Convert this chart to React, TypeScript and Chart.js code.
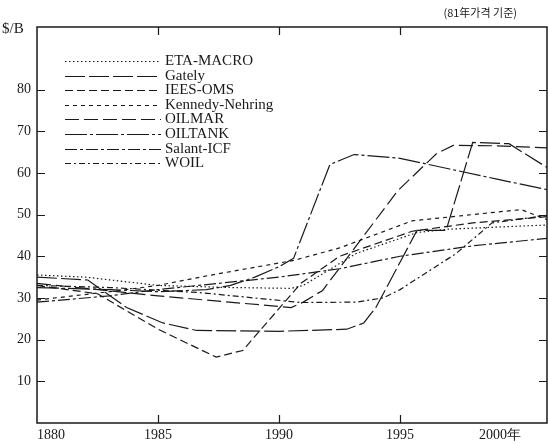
import React, { useEffect, useRef } from "react";
import { Chart, registerables } from "chart.js";

Chart.register(...registerables);

// ---------- data ----------
const xTicks = [1980, 1985, 1990, 1995, 2000];
const xTickLabels = ["1880", "1985", "1990", "1995", "2000年"];
const yTicks = [10, 20, 30, 40, 50, 60, 70, 80];
const yUnit = "$/B";
const note = "(81年가격 기준)";

const seriesNames = [
  "ETA-MACRO",
  "Gately",
  "IEES-OMS",
  "Kennedy-Nehring",
  "OILMAR",
  "OILTANK",
  "Salant-ICF",
  "WOIL",
];

const etaYears = [1980, 1982, 1985, 1988, 1990.5, 1991, 1993.2, 1995.7, 1997, 2001.07];
const etaValues = [35.5, 35, 33, 32.5, 32.3, 33, 40.7, 45.7, 46.5, 47.5];

const gatelyYears = [1980, 1982.1, 1983.7, 1985.2, 1986.6, 1990, 1992.8, 1993.5, 1994, 1995.7, 1996.9, 1998, 1999.5, 2001.07];
const gatelyValues = [35, 34.3, 27.7, 24, 22.2, 22, 22.5, 24, 27.7, 46.2, 46.2, 67.3, 67, 61.3];

const ieesYears = [1980, 1982.5, 1985, 1987.4, 1988.5, 1990.9, 1992.5, 1995.5, 1998, 2001.07];
const ieesValues = [33, 31, 22.5, 15.8, 17.4, 33.5, 40, 46, 48, 49.5];

const kennedyYears = [1980, 1983, 1985, 1987.1, 1990.6, 1992.5, 1995.5, 2000, 2001.07];
const kennedyValues = [29.5, 31.5, 33, 35.4, 39, 42, 48.5, 51.2, 48.8];

const oilmarYears = [1980, 1985, 1990.5, 1991, 1991.8, 1994.9, 1996.5, 1997.2, 1999, 2001.07];
const oilmarValues = [33.5, 30.5, 27.7, 29, 31.8, 55.7, 64.6, 66.6, 66.5, 66];

const oiltankYears = [1980, 1983, 1985, 1987, 1988, 1989, 1990, 1990.6, 1992.1, 1993.1, 1995, 1997, 1999, 2001.07];
const oiltankValues = [32.5, 32, 31.5, 32, 33, 35, 37.5, 39.5, 62, 64.4, 63.5, 61, 58.5, 56];

const salantYears = [1980, 1983, 1985, 1990, 1992.5, 1995, 1998, 2001.07];
const salantValues = [29, 30.5, 32, 35, 37, 40, 42.5, 44.3];

const woilYears = [1980, 1983, 1986.7, 1990.9, 1993.2, 1994.3, 1995, 1997.3, 1998.8, 2001.07];
const woilValues = [33, 32.5, 31.3, 28.9, 29, 30, 32, 40.6, 48, 49.8];

const seriesYears = [etaYears, gatelyYears, ieesYears, kennedyYears, oilmarYears, oiltankYears, salantYears, woilYears];
const seriesValues = [etaValues, gatelyValues, ieesValues, kennedyValues, oilmarValues, oiltankValues, salantValues, woilValues];

const dashes: number[][] = [
  [1.5, 2.5],
  [20, 4],
  [8, 4],
  [4, 4],
  [14, 5],
  [22, 3, 3, 3],
  [12, 3, 3, 3],
  [6, 3, 2, 3],
];

const INK = "#1a1a1a";
const SERIF = "'Liberation Serif', 'DejaVu Serif', serif";

export default function App() {
  const ref = useRef<HTMLCanvasElement | null>(null);

  useEffect(() => {
    const canvas = ref.current;
    if (!canvas) return;

    const datasets = seriesNames.map((name, i) => ({
      label: name,
      data: seriesYears[i].map((x, j) => ({ x, y: seriesValues[i][j] })),
      showLine: true,
      borderColor: INK,
      borderWidth: 1.2,
      borderDash: dashes[i],
      pointRadius: 0,
      tension: 0,
      fill: false,
    }));

    const decor = {
      id: "decor",
      afterDraw(chart: any) {
        const { ctx, chartArea } = chart;
        const xs = chart.scales.x;
        const ys = chart.scales.y;
        ctx.save();
        // frame
        ctx.strokeStyle = INK;
        ctx.lineWidth = 1.5;
        ctx.setLineDash([]);
        ctx.strokeRect(chartArea.left, chartArea.top, chartArea.right - chartArea.left, chartArea.bottom - chartArea.top);
        // inner ticks
        ctx.lineWidth = 1.2;
        const tl = 8;
        [1985, 1990, 1995].forEach((v) => {
          const px = Math.round(xs.getPixelForValue(v)) + 0.5;
          ctx.beginPath();
          ctx.moveTo(px, chartArea.bottom);
          ctx.lineTo(px, chartArea.bottom - tl);
          ctx.moveTo(px, chartArea.top);
          ctx.lineTo(px, chartArea.top + tl);
          ctx.stroke();
        });
        yTicks.forEach((v) => {
          const py = Math.round(ys.getPixelForValue(v)) + 0.5;
          ctx.beginPath();
          ctx.moveTo(chartArea.left, py);
          ctx.lineTo(chartArea.left + tl, py);
          ctx.moveTo(chartArea.right, py);
          ctx.lineTo(chartArea.right - tl, py);
          ctx.stroke();
        });
        // unit & note
        ctx.fillStyle = INK;
        ctx.font = `15px ${SERIF}`;
        ctx.textBaseline = "middle";
        ctx.textAlign = "left";
        ctx.fillText(yUnit, 2, 29);
        ctx.font = `11px 'Noto Sans CJK KR', sans-serif`;
        ctx.textAlign = "right";
        ctx.fillText(note, 517, 13);
        // legend
        ctx.font = `15px ${SERIF}`;
        ctx.textAlign = "left";
        chart.data.datasets.forEach((ds: any, i: number) => {
          const y = Math.round(61 + i * 14.6) + 0.5;
          ctx.beginPath();
          ctx.lineWidth = 1.2;
          ctx.setLineDash(ds.borderDash);
          ctx.moveTo(65, y);
          ctx.lineTo(161, y);
          ctx.stroke();
          ctx.setLineDash([]);
          ctx.fillText(ds.label, 165, y);
        });
        ctx.restore();
      },
    };

    const chart = new Chart(canvas, {
      type: "scatter",
      data: { datasets },
      options: {
        animation: false,
        responsive: false,
        maintainAspectRatio: false,
        layout: { padding: { top: 27, right: 1, left: 0, bottom: 0 } },
        plugins: { legend: { display: false }, tooltip: { enabled: false } },
        scales: {
          x: {
            type: "linear",
            min: 1980,
            max: 2001.07,
            grid: { display: false, drawTicks: false, tickLength: 0 },
            border: { display: false },
            afterBuildTicks: (s: any) => {
              s.ticks = xTicks.map((v) => ({ value: v }));
            },
            afterFit: (s: any) => {
              s.height = 21;
            },
            ticks: {
              autoSkip: false,
              maxRotation: 0,
              align: "inner",
              padding: 4,
              color: INK,
              font: { family: SERIF, size: 14 },
              callback: (_v: any, i: number) => xTickLabels[i],
            },
          },
          y: {
            type: "linear",
            min: 0,
            max: 95,
            grid: { display: false, drawTicks: false, tickLength: 0 },
            border: { display: false },
            afterBuildTicks: (s: any) => {
              s.ticks = yTicks.map((v) => ({ value: v }));
            },
            afterFit: (s: any) => {
              s.width = 37;
            },
            ticks: {
              padding: 6,
              color: INK,
              font: { family: SERIF, size: 14 },
              callback: (v: any) => String(v),
            },
          },
        },
      },
      plugins: [decor],
    } as any);

    return () => chart.destroy();
  }, []);

  return (
    <div style={{ position: "absolute", left: 0, top: 0, width: 548, height: 444, background: "#fff" }}>
      <canvas ref={ref} width={548} height={444} style={{ display: "block" }} />
    </div>
  );
}
